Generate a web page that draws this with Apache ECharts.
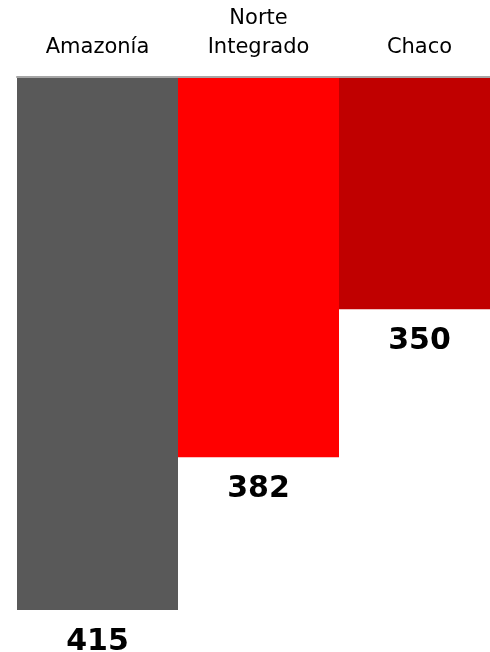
<!DOCTYPE html>
<html>
<head>
<meta charset="utf-8">
<script src="https://cdn.jsdelivr.net/npm/echarts@6/dist/echarts.min.js"></script>
<style>
  html, body { margin: 0; padding: 0; background: #fff; }
  #chart { width: 490px; height: 652px; }
</style>
</head>
<body>
<div id="chart"></div>
<script>
const regions = ["Amazonía", "Norte\nIntegrado", "Chaco"];
const values = [415, 382, 350];
const barColors = ["#595959", "#FF0000", "#C00000"];

const chart = echarts.init(document.getElementById("chart"));
chart.setOption({
  animation: false,
  grid: { left: 17, top: 78, width: 483, height: 532, outerBoundsMode: "none", containLabel: false },
  xAxis: {
    type: "category",
    position: "top",
    offset: 1,
    z: 5,
    data: regions,
    axisLine: { show: true, lineStyle: { color: "#A6A6A6", width: 2 } },
    axisTick: { show: false },
    axisLabel: {
      interval: 0,
      margin: 15,
      color: "#000",
      fontFamily: "DejaVu Sans",
      fontSize: 21,
      lineHeight: 29
    }
  },
  yAxis: {
    type: "value",
    inverse: true,
    min: 300,
    max: 415,
    show: false
  },
  series: [
    {
      type: "bar",
      barCategoryGap: 0,
      data: values.map((v, i) => ({ value: v, itemStyle: { color: barColors[i] } })),
      label: {
        show: true,
        position: "bottom",
        distance: 17,
        color: "#000",
        fontFamily: "DejaVu Sans",
        fontWeight: "bold",
        fontSize: 30
      }
    }
  ]
});
</script>
</body>
</html>
